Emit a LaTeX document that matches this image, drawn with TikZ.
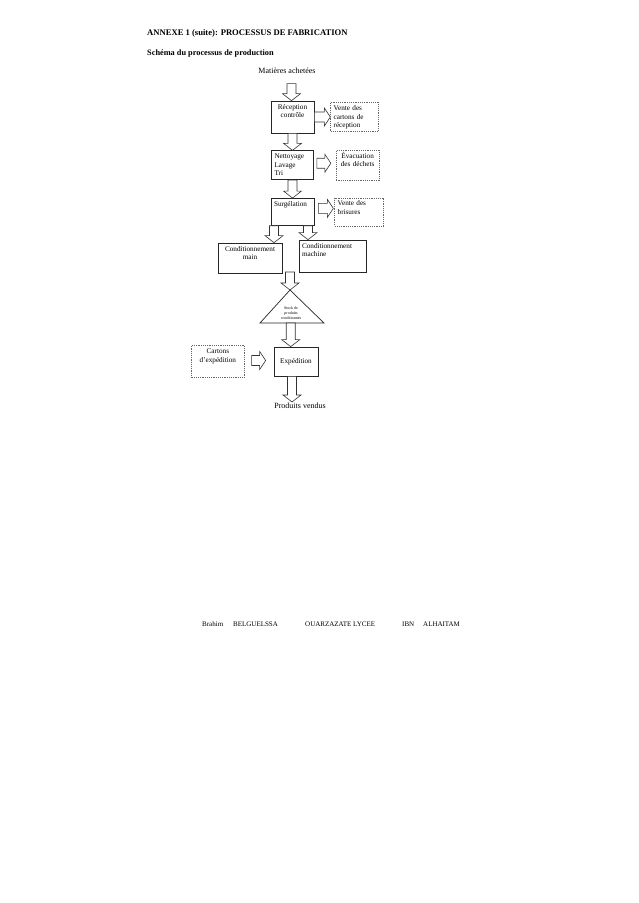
\documentclass[tikz,border=0pt]{standalone}
\usepackage{fontspec}
\setmainfont{Liberation Serif}
\usetikzlibrary{positioning, calc}

% hollow block arrows: start point, target anchor (and gap)
\newcommand{\bdown}[2]{%
  \coordinate (ba) at #1;
  \coordinate (bb) at (ba |- #2);
  \draw[blk] ($(ba)+(-4.5,0)$) -- ($(bb)+(-4.5,-7)$) -- ($(bb)+(-9,-7)$) -- (bb)
    -- ($(bb)+(9,-7)$) -- ($(bb)+(4.5,-7)$) -- ($(ba)+(4.5,0)$) -- cycle;}
\newcommand{\bright}[3]{%
  \coordinate (ba) at #1;
  \coordinate (bb) at ($(ba -| #2)+(-#3,0)$);
  \draw[blk] ($(ba)+(0,-5)$) -- ($(bb)+(-6,-5)$) -- ($(bb)+(-6,-9)$) -- (bb)
    -- ($(bb)+(-6,9)$) -- ($(bb)+(-6,5)$) -- ($(ba)+(0,5)$) -- cycle;}

\begin{document}
\begin{tikzpicture}[x=1pt, y=-1pt,
  every node/.style={font=\fontsize{7.2}{8.5}\selectfont, inner sep=3pt},
  box/.style  = {draw=black!85, line width=0.7pt, text height=5pt, align=left},
  cbox/.style = {box, align=center},
  dbox/.style = {draw=black!60, dash pattern=on 1.2pt off 1pt, line width=0.6pt, text height=5pt, align=left},
  blk/.style  = {draw=black!80, line width=0.6pt, fill=white, line join=miter},
  lbl/.style  = {font=\fontsize{8}{10}\selectfont, inner sep=1pt},
  foot/.style = {font=\fontsize{7}{8}\selectfont, inner sep=0pt, anchor=base west},
]
  \path[use as bounding box, fill=white] (0,0) rectangle (638,903);

  \node[anchor=base west, inner sep=0pt, font=\fontsize{8.6}{11}\selectfont\bfseries] (title) at (147,35)
    {ANNEXE 1 (suite): PROCESSUS DE FABRICATION};
  \node[anchor=base west, inner sep=0pt, font=\fontsize{8.3}{10}\selectfont\bfseries] (sub) at (147,55)
    {Schéma du processus de production};

  \node[lbl]                                             (mat)   at (287,71) {Matières achetées};
  \node[cbox, text width=37pt, text depth=21pt]          (rec)   at (292.5,117) {Réception\\contrôle};
  \node[box, text width=36pt, text depth=18pt, below=17pt of rec]  (net)  {Nettoyage\\Lavage\\Tri};
  \node[box, text width=37pt, text depth=16pt, below=18pt of net]  (surg) {Surgélation};
  \node[dbox, text width=42pt, text depth=18pt, right=16pt of rec] (vrec) {Vente des\\cartons de\\réception};
  \node[dbox, align=center, text width=37pt, text depth=19pt, right=22pt of net] (evac) {Évacuation\\des déchets};
  \node[dbox, text width=43pt, text depth=17pt, right=20pt of surg] (vbris) {Vente des\\brisures};
  \node[cbox, text width=58pt, text depth=19pt]          (cmain) at (250,258) {Conditionnement\\main};
  \node[box, text width=61pt, text depth=21pt]           (cmach) at (332.5,256) {Conditionnement\\machine};

  % stock triangle
  \coordinate (apex) at (290,290);
  \coordinate (tl)   at (260,323);
  \coordinate (tr)   at (324,323);
  \draw[line width=0.7pt, draw=black!85] (apex) -- (tl) -- (tr) -- cycle;
  \node[font=\fontsize{4}{5}\selectfont, align=center, inner sep=0pt] (stock) at (291,313)
    {Stock de\\produits\\conditionnés};

  \node[cbox, text width=38pt, minimum height=29pt]      (exp)   at (296,361.5) {Expédition};
  \node[dbox, align=center, text width=47pt, text depth=21pt, left=29pt of exp] (cart) {Cartons\\d'expédition};
  \node[lbl]                                             (vendus) at (300,406) {Produits vendus};

  \bdown{($(rec.north)+(-1,-17)$)}{rec.north}
  \bdown{(rec.south)}{net.north}
  \bdown{(net.south)}{surg.north}
  \bdown{($(surg.south)+(-18.5,0)$)}{cmain.north}
  \bdown{($(surg.south)+(15.5,0)$)}{cmach.north}
  \coordinate (mid) at (290,272);
  \bdown{(mid)}{apex}
  \coordinate (base) at ($(tl)!0.48!(tr)$);
  \bdown{(base)}{exp.north}
  \bdown{($(exp.south)+(-4,0)$)}{vendus.north}

  \bright{(rec.east)}{vrec.west}{0}
  \bright{($(net.east)+(3,-2)$)}{evac.west}{5}
  \bright{($(surg.east)+(4,-3.5)$)}{vbris.west}{1}
  \bright{($(cart.east)+(7,-1)$)}{exp.west}{8}

  \node[foot] (f1) at (202,626) {Brahim};
  \node[foot] (f2) at (233,626) {BELGUELSSA};
  \node[foot] (f3) at (305,626) {OUARZAZATE LYCEE};
  \node[foot] (f4) at (402,626) {IBN};
  \node[foot] (f5) at (423,626) {ALHAITAM};
\end{tikzpicture}
\end{document}
